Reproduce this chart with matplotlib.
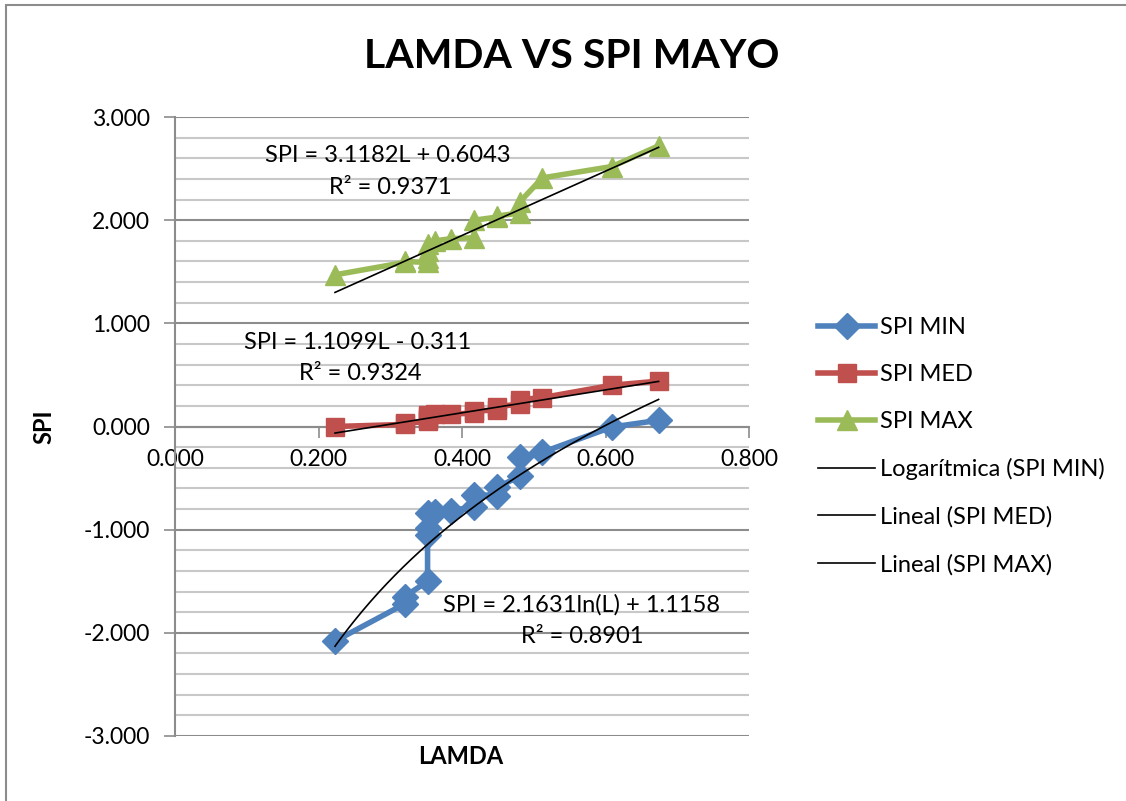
import numpy as np
import matplotlib
matplotlib.use("Agg")
import matplotlib.pyplot as plt
from matplotlib.patches import Rectangle
from matplotlib.ticker import MultipleLocator, FormatStrFormatter

plt.rcParams['font.family'] = ['Lato', 'DejaVu Sans']

# valores
lamda = [0.223, 0.320, 0.320, 0.352, 0.352, 0.352, 0.352, 0.363, 0.384,
         0.417, 0.417, 0.449, 0.449, 0.481, 0.481, 0.512, 0.609, 0.674]
spi_min = [-2.08, -1.72, -1.65, -1.50, -1.05, -0.98, -0.84, -0.83, -0.815,
           -0.78, -0.66, -0.67, -0.59, -0.48, -0.30, -0.25, -0.005, 0.06]
spi_med = [0.00, 0.02, 0.03, 0.05, 0.07, 0.09, 0.11, 0.12, 0.12,
           0.13, 0.15, 0.16, 0.19, 0.22, 0.26, 0.28, 0.40, 0.44]
spi_max = [1.47, 1.59, 1.60, 1.59, 1.63, 1.70, 1.77, 1.80, 1.82,
           1.83, 2.00, 2.03, 2.04, 2.07, 2.18, 2.41, 2.52, 2.72]

# coeficientes de las lineas de tendencia
log_min = (2.1631, 1.1158)
lin_med = (1.1099, -0.311)
lin_max = (3.1182, 0.6043)

fs = 17

fig = plt.figure(figsize=(11.26, 8.01), dpi=100)
ax = fig.add_axes([175/1126, 65/801, 574/1126, 619/801])

azul, rojo, verde = '#4F81BD', '#C0504D', '#9BBB59'
ax.plot(lamda, spi_min, color=azul, lw=4, marker='D', ms=13, label='SPI MIN', zorder=3)
ax.plot(lamda, spi_med, color=rojo, lw=4, marker='s', ms=13.5, label='SPI MED', zorder=3)
ax.plot(lamda, spi_max, color=verde, lw=4, marker='^', ms=15, label='SPI MAX', zorder=3)

xx = np.linspace(min(lamda), max(lamda), 200)
ax.plot(xx, log_min[0]*np.log(xx) + log_min[1], color='black', lw=1.2,
        label='Logarítmica (SPI MIN)', zorder=4)
ax.plot(xx, lin_med[0]*xx + lin_med[1], color='black', lw=1.2,
        label='Lineal (SPI MED)', zorder=4)
ax.plot(xx, lin_max[0]*xx + lin_max[1], color='black', lw=1.2,
        label='Lineal (SPI MAX)', zorder=4)

ax.set_xlim(0, 0.8)
ax.set_ylim(-3, 3)
ax.xaxis.set_major_locator(MultipleLocator(0.2))
ax.yaxis.set_major_locator(MultipleLocator(1))
ax.yaxis.set_minor_locator(MultipleLocator(0.2))
ax.xaxis.set_major_formatter(FormatStrFormatter('%.3f'))
ax.yaxis.set_major_formatter(FormatStrFormatter('%.3f'))
ax.grid(True, which='major', axis='y', color='#8c8c8c', lw=1.5, zorder=0)
ax.grid(True, which='minor', axis='y', color='#c8c8c8', lw=1.5, zorder=0)
ax.tick_params(axis='y', which='minor', length=0)
ax.tick_params(axis='both', which='major', length=8, width=1.2, color='#8c8c8c',
               labelsize=16.5, pad=10)
ax.tick_params(axis='x', pad=8)

for s in ['top', 'right']:
    ax.spines[s].set_visible(False)
ax.spines['bottom'].set_position(('data', 0))
ax.spines['left'].set_color('#8c8c8c')
ax.spines['bottom'].set_color('#8c8c8c')
ax.spines['left'].set_linewidth(1.5)
ax.spines['bottom'].set_linewidth(1.5)

ax.set_ylabel('SPI', fontsize=fs, fontweight='bold')
ax.yaxis.set_label_coords((55 - 175)/574, 0.5)
fig.text(461/1126, 1 - 757/801, 'LAMDA', fontsize=fs, fontweight='bold',
         ha='center', va='center')
fig.text(572/1126, 1 - 57/801, 'LAMDA VS SPI MAYO', fontsize=29.5, fontweight='bold',
         ha='center', va='center')

# ecuaciones de tendencia
ax.text(0.297, 2.63, 'SPI = 3.1182L + 0.6043', fontsize=fs, ha='center', va='center')
ax.text(0.300, 2.32, 'R² = 0.9371', fontsize=fs, ha='center', va='center')
ax.text(0.254, 0.815, 'SPI = 1.1099L - 0.311', fontsize=fs, ha='center', va='center')
ax.text(0.258, 0.51, 'R² = 0.9324', fontsize=fs, ha='center', va='center')
ax.text(0.567, -1.73, 'SPI = 2.1631ln(L) + 1.1158', fontsize=fs, ha='center', va='center')
ax.text(0.567, -2.04, 'R² = 0.8901', fontsize=fs, ha='center', va='center')

ax.legend(loc='upper left', bbox_to_anchor=(797/1126, 1 - 296/801),
          bbox_transform=fig.transFigure, frameon=False, fontsize=fs,
          numpoints=1, handlelength=2.4, handletextpad=0.2, labelspacing=1.1)

fig.add_artist(Rectangle((6/1126, -0.1), 1.2, 1.1 - 5/801, transform=fig.transFigure,
                         fill=False, ec='#8c8c8c', lw=1.5))

fig.savefig('out.png', dpi=100)
